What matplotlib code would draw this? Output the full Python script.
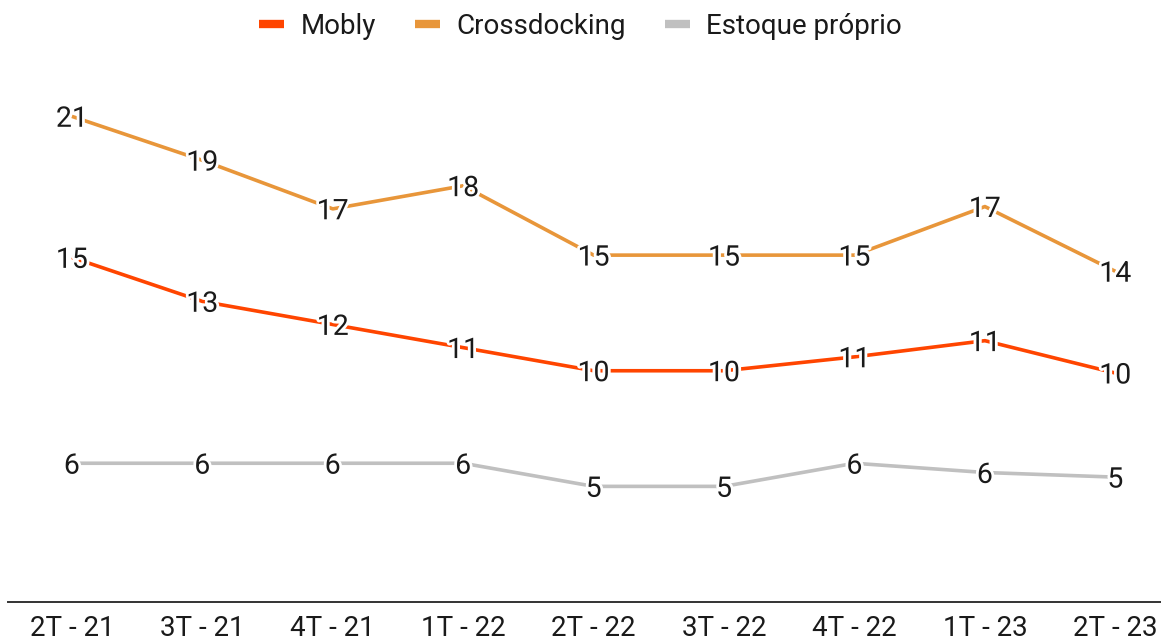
import matplotlib.pyplot as plt
import matplotlib.patheffects as pe

plt.rcParams["font.family"] = ["Roboto", "DejaVu Sans"]

quarters = ["2T - 21", "3T - 21", "4T - 21", "1T - 22", "2T - 22",
            "3T - 22", "4T - 22", "1T - 23", "2T - 23"]
mobly = [14.9, 13.0, 12.0, 11.0, 10.0, 10.0, 10.6, 11.3, 9.9]
crossdocking = [21.0, 19.1, 17.0, 18.0, 15.0, 15.0, 15.0, 17.1, 14.3]
estoque = [6.0, 6.0, 6.0, 6.0, 5.0, 5.0, 6.0, 5.6, 5.4]

series = [
    ("Mobly", mobly, "#ff4500"),
    ("Crossdocking", crossdocking, "#e8963a"),
    ("Estoque próprio", estoque, "#c0c0c0"),
]

fig = plt.figure(figsize=(11.61, 6.39), dpi=100)
ax = fig.add_axes([8 / 1161, 37 / 639, 1153 / 1161, 555 / 639])

x = list(range(len(quarters)))
halo = [pe.withStroke(linewidth=4, foreground="white")]
for name, values, color in series:
    ax.plot(x, values, color=color, linewidth=2.6, label=name, solid_capstyle="butt")
    for xi, v in zip(x, values):
        ax.annotate(f"{v:.0f}", (xi, v), xytext=(0, -7.5), textcoords="offset points",
                    ha="center", va="baseline", fontsize=20.5, color="#1a1a1a",
                    path_effects=halo, clip_on=False)

ax.set_xlim(-0.49, 8.35)
ax.set_ylim(0, 24)
ax.set_xticks(x)
ax.set_xticklabels(quarters, fontsize=20, color="#1a1a1a")
ax.tick_params(axis="x", length=0, pad=9)
ax.set_yticks([])
for side in ["top", "right", "left"]:
    ax.spines[side].set_visible(False)
ax.spines["bottom"].set_color("#333333")
ax.spines["bottom"].set_linewidth(1.4)

handles, labels = ax.get_legend_handles_labels()
leg = fig.legend(handles, labels, loc="center", bbox_to_anchor=(0.5, 1 - 26 / 639),
                 ncol=3, frameon=False, fontsize=20, handlelength=0.9,
                 handletextpad=0.6, columnspacing=1.4)
for line in leg.get_lines():
    line.set_linewidth(6)
for text in leg.get_texts():
    text.set_color("#1a1a1a")

fig.savefig("out.png", dpi=100)
